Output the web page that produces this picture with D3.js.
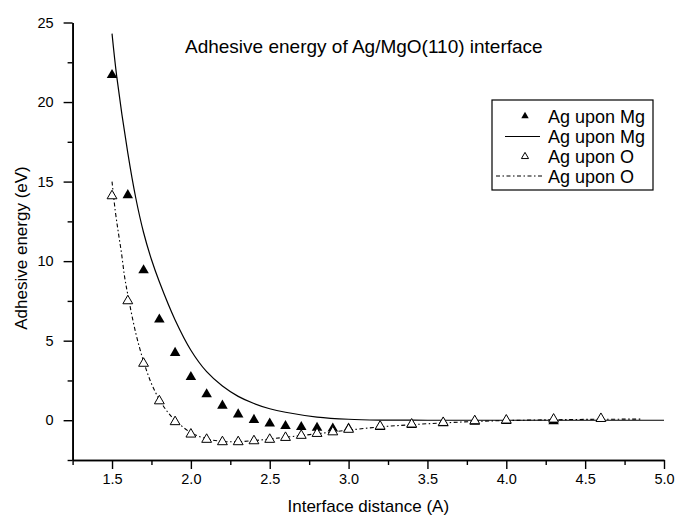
<!DOCTYPE html>
<html>
<head>
<meta charset="utf-8">
<script src="https://cdn.jsdelivr.net/npm/d3@7"></script>
<style>
body { margin: 0; background: #fff; }
svg text { font-family: "Liberation Sans", Arial, sans-serif; fill: #000; }
</style>
</head>
<body>
<svg id="chart" width="677" height="524"></svg>
<script>
// measured points, Ag upon Mg (filled triangles)
const mgPointsX = [1.5, 1.6, 1.7, 1.8, 1.9, 2.0, 2.1, 2.2, 2.3, 2.4, 2.5, 2.6, 2.7, 2.8, 2.9, 3.0, 3.2, 3.4, 3.6, 3.8, 4.0, 4.3];
const mgPointsY = [21.7, 14.15, 9.43, 6.33, 4.23, 2.72, 1.63, 0.92, 0.37, 0.02, -0.21, -0.36, -0.43, -0.47, -0.52, -0.52, -0.42, -0.3, -0.18, -0.1, -0.05, -0.06];

// measured points, Ag upon O (open triangles)
const oPointsX = [1.5, 1.6, 1.7, 1.8, 1.9, 2.0, 2.1, 2.2, 2.3, 2.4, 2.5, 2.6, 2.7, 2.8, 2.9, 3.0, 3.2, 3.4, 3.6, 3.8, 4.0, 4.3, 4.6];
const oPointsY = [14.1, 7.5, 3.57, 1.21, -0.1, -0.88, -1.21, -1.36, -1.36, -1.3, -1.21, -1.09, -0.96, -0.84, -0.74, -0.58, -0.38, -0.25, -0.15, -0.04, 0.0, 0.06, 0.1];

// fitted curve, Ag upon Mg (solid)
const mgFitX = [1.5, 1.53, 1.6, 1.65, 1.7, 1.75, 1.8, 1.9, 2.0, 2.1, 2.2, 2.3, 2.4, 2.5, 2.6, 2.8, 3.0, 3.2, 3.5, 4.0, 4.5, 5.0];
const mgFitY = [24.3, 21.6, 16.8, 14.0, 11.8, 10.1, 8.7, 6.3, 4.4, 3.05, 2.15, 1.5, 1.05, 0.72, 0.5, 0.2, 0.06, 0.01, 0, 0, 0, 0];

// fitted curve, Ag upon O (dash-dot)
const oFitX = [1.5, 1.52, 1.54, 1.56, 1.58, 1.6, 1.65, 1.7, 1.75, 1.8, 1.85, 1.9, 2.0, 2.1, 2.2, 2.3, 2.4, 2.5, 2.6, 2.8, 3.0, 3.2, 3.4, 3.6, 3.8, 4.0, 4.3, 4.6, 4.85];
const oFitY = [15.0, 13.2, 11.8, 10.5, 9.0, 7.9, 5.5, 3.7, 2.3, 1.3, 0.55, 0.0, -0.78, -1.17, -1.33, -1.35, -1.28, -1.18, -1.07, -0.85, -0.62, -0.42, -0.28, -0.17, -0.08, -0.02, 0.03, 0.06, 0.07];

const xMajor = [1.5, 2.0, 2.5, 3.0, 3.5, 4.0, 4.5, 5.0];
const xMinor = [1.25, 1.75, 2.25, 2.75, 3.25, 3.75, 4.25, 4.75];
const yMajor = [0, 5, 10, 15, 20, 25];
const yMinor = [-2.5, 2.5, 7.5, 12.5, 17.5, 22.5];

const legendLabels = ["Ag upon Mg", "Ag upon Mg", "Ag upon O", "Ag upon O"];

const svg = d3.select("#chart");
const plotLeft = 72.6, plotRight = 664, plotTop = 22.5, plotBottom = 460;

const x = d3.scaleLinear().domain([1.25, 5.0]).range([plotLeft, plotRight]);
const y = d3.scaleLinear().domain([-2.5, 25]).range([plotBottom, plotTop]);

const zip = (xs, ys) => xs.map((v, i) => [v, ys[i]]);

// axes
const xAxisG = svg.append("g").attr("transform", `translate(0,${plotBottom})`);
xAxisG.call(d3.axisBottom(x).tickValues(xMinor).tickSize(5).tickSizeOuter(0).tickFormat(""));
xAxisG.append("g").call(d3.axisBottom(x).tickValues(xMajor).tickSize(9).tickSizeOuter(0).tickPadding(5).tickFormat(d3.format(".1f")));

const yAxisG = svg.append("g").attr("transform", `translate(${plotLeft},0)`);
yAxisG.call(d3.axisLeft(y).tickValues(yMinor).tickSize(5).tickSizeOuter(0).tickFormat(""));
yAxisG.append("g").call(d3.axisLeft(y).tickValues(yMajor).tickSize(9).tickSizeOuter(0).tickPadding(10).tickFormat(d3.format("d")));

svg.selectAll(".domain").attr("stroke", "#000").attr("stroke-width", 1.6);
svg.selectAll(".tick line").attr("stroke", "#000").attr("stroke-width", 1.4);
svg.selectAll(".tick text").attr("font-size", 14.5).attr("font-family", "Liberation Sans, Arial, sans-serif");

// curves
const line = d3.line().x(d => x(d[0])).y(d => y(d[1])).curve(d3.curveCatmullRom.alpha(0.5));

svg.append("path")
    .datum(zip(mgFitX, mgFitY))
    .attr("d", line)
    .attr("fill", "none")
    .attr("stroke", "#000")
    .attr("stroke-width", 1.2);

svg.append("path")
    .datum(zip(oFitX, oFitY))
    .attr("d", line)
    .attr("fill", "none")
    .attr("stroke", "#000")
    .attr("stroke-width", 1.1)
    .attr("stroke-dasharray", "4,2.5,1.5,2.5");

// markers
const tri = d3.symbol().type(d3.symbolTriangle).size(48);

svg.append("g").selectAll("path")
    .data(zip(mgPointsX, mgPointsY))
    .enter().append("path")
    .attr("d", tri)
    .attr("transform", d => `translate(${x(d[0])},${y(d[1])})`)
    .attr("fill", "#000");

svg.append("g").selectAll("path")
    .data(zip(oPointsX, oPointsY))
    .enter().append("path")
    .attr("d", d3.symbol().type(d3.symbolTriangle).size(42))
    .attr("transform", d => `translate(${x(d[0])},${y(d[1])})`)
    .attr("fill", "#fff")
    .attr("stroke", "#000")
    .attr("stroke-width", 1);

// title and axis labels
svg.append("text")
    .attr("x", 185).attr("y", 53)
    .attr("font-size", 19)
    .text("Adhesive energy of Ag/MgO(110) interface");

svg.append("text")
    .attr("x", (plotLeft + plotRight) / 2).attr("y", 512)
    .attr("text-anchor", "middle")
    .attr("font-size", 17)
    .text("Interface distance (A)");

svg.append("text")
    .attr("transform", "translate(27,248) rotate(-90)")
    .attr("text-anchor", "middle")
    .attr("font-size", 17)
    .text("Adhesive energy (eV)");

// legend
const lg = svg.append("g");
lg.append("rect")
    .attr("x", 492).attr("y", 100)
    .attr("width", 161).attr("height", 90)
    .attr("fill", "#fff")
    .attr("stroke", "#000")
    .attr("stroke-width", 1.2);

const rowY = [116, 136.5, 156.5, 176];
lg.selectAll("text.lbl")
    .data(legendLabels)
    .enter().append("text")
    .attr("class", "lbl")
    .attr("x", 548)
    .attr("y", (d, i) => rowY[i] + 6.5)
    .attr("font-size", 18)
    .text(d => d);

lg.append("path")
    .attr("d", d3.symbol().type(d3.symbolTriangle).size(24))
    .attr("transform", `translate(525,${rowY[0]})`)
    .attr("fill", "#000");
lg.append("line")
    .attr("x1", 505).attr("x2", 540)
    .attr("y1", rowY[1]).attr("y2", rowY[1])
    .attr("stroke", "#000").attr("stroke-width", 1.2);
lg.append("path")
    .attr("d", d3.symbol().type(d3.symbolTriangle).size(22))
    .attr("transform", `translate(525,${rowY[2]})`)
    .attr("fill", "#fff").attr("stroke", "#000").attr("stroke-width", 1);
lg.append("line")
    .attr("x1", 496).attr("x2", 543)
    .attr("y1", rowY[3]).attr("y2", rowY[3])
    .attr("stroke", "#000").attr("stroke-width", 1.1)
    .attr("stroke-dasharray", "4,2.5,1.5,2.5");
</script>
</body>
</html>
